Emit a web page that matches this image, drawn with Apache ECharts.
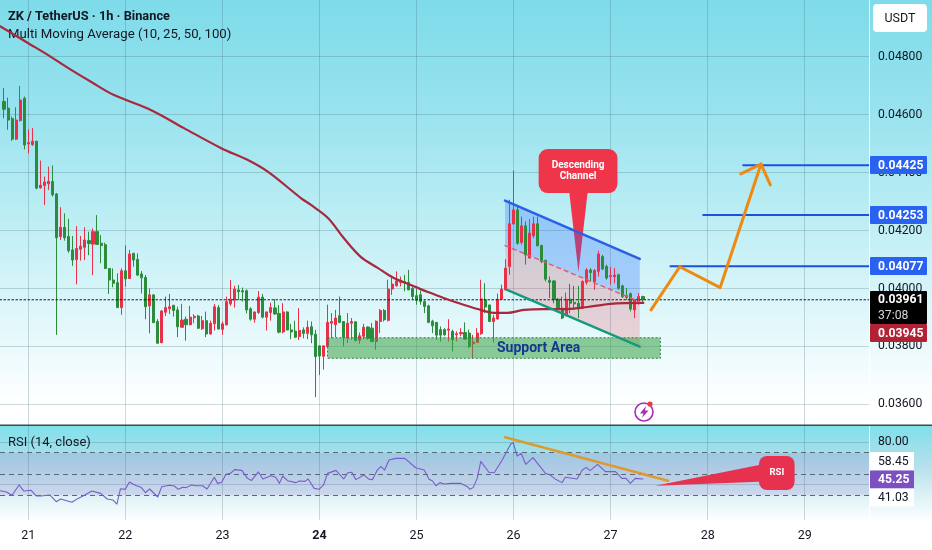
<!DOCTYPE html>
<html><head><meta charset="utf-8">
<style>html,body{margin:0;padding:0;background:#fff}#c{width:932px;height:550px}</style>
<script src="https://cdn.jsdelivr.net/npm/echarts@6/dist/echarts.min.js"></script>
</head><body><div id="c"></div>
<script>
// prices in 1e-5 USDT, one candle per hour, k = 0 is first candle
const opens=[4645,4622,4586,4515,4579,4656,4499,4496,4508,4347,
4355,4361,4369,4326,4179,4211,4179,4133,4100,4135,
4142,4165,4153,4196,4156,4151,4069,4029,4020,3934,
4061,4034,4121,4100,4050,4038,3940,3978,3886,3813,
3918,3930,3942,3926,3866,3894,3875,3899,3905,3861,
3889,3843,3878,3934,3859,3874,3947,3960,3995,3992,
3992,3930,3894,3917,3970,3901,3917,3933,3914,3850,
3919,3857,3853,3834,3857,3845,3868,3842,3802,3766,
3800,3880,3875,3906,3886,3829,3880,3885,3821,3835,
3867,3863,3817,3886,3924,3890,3998,4009,4021,4024,
4021,4000,3975,3978,3955,3940,3887,3883,3858,3858,
3856,3852,3840,3844,3848,3846,3809,3814,3844,3961,
3943,3886,3895,3963,3995,4076,4223,4271,4159,4216,
4105,4182,4223,4148,4097,4028,4026,3963,3932,3906,
3963,3952,3949,3932,4021,4064,4024,4059,4110,4076,
4041,4041,4047,4009,3975,3982,3926,3949,3972];
const closes=[4618,4581,4515,4581,4650,4495,4503,4508,4346,4356,
4367,4369,4323,4175,4211,4175,4130,4098,4138,4146,
4167,4155,4196,4152,4148,4069,4029,4018,3934,4061,
4033,4119,4098,4046,4037,3937,3978,3882,3811,3922,
3934,3937,3924,3868,3891,3875,3901,3904,3863,3889,
3843,3880,3937,3860,3878,3955,3963,3998,3989,3988,
3926,3894,3919,3970,3901,3919,3934,3912,3849,3919,
3857,3850,3832,3855,3845,3866,3840,3765,3767,3802,
3883,3886,3898,3883,3832,3880,3886,3821,3837,3866,
3828,3817,3887,3924,3892,3998,4015,4026,4026,4021,
3995,3972,3959,3955,3938,3883,3871,3839,3839,3840,
3860,3823,3844,3848,3825,3800,3815,3846,3964,3936,
3886,3898,3963,3998,4070,4223,4271,4156,4216,4116,
4191,4223,4147,4093,4032,4021,3961,3932,3898,3963,
3949,3947,3929,4024,4064,4055,4062,4119,4067,4036,
4044,4046,4001,3972,3969,3929,3961,3972,3961];
const lows=[4587,4547,4509,4512,4576,4480,4466,4492,4342,4344,
4288,4340,4317,3840,4167,4165,4123,4078,4014,4096,
4098,4115,4046,4150,4087,4067,3981,4004,3934,3909,
4006,4033,4075,4044,3983,3894,3845,3882,3811,3811,
3905,3912,3903,3832,3866,3820,3873,3880,3860,3857,
3832,3841,3855,3859,3840,3874,3940,3934,3960,3955,
3914,3889,3882,3912,3897,3855,3889,3909,3845,3845,
3855,3825,3829,3822,3828,3825,3811,3625,3702,3720,
3798,3829,3832,3880,3800,3812,3823,3817,3809,3825,
3823,3814,3789,3846,3886,3886,3978,4007,4007,3990,
3995,3961,3944,3944,3915,3880,3846,3823,3817,3837,
3817,3783,3817,3835,3823,3794,3760,3812,3840,3915,
3884,3814,3892,3961,3993,4047,4219,4151,4151,4082,
4102,4174,4145,4087,4024,3967,3949,3926,3894,3904,
3915,3926,3898,3929,4013,4024,3995,4041,4064,4030,
4013,4018,3995,3967,3961,3921,3898,3944,3947];
const highs=[4691,4658,4593,4625,4699,4662,4549,4553,4508,4441,
4386,4420,4424,4329,4280,4259,4240,4181,4215,4181,
4211,4196,4207,4253,4184,4158,4069,4069,4052,4069,
4148,4133,4123,4121,4060,4046,4000,3978,3894,3926,
3972,3981,3943,3937,3947,3903,3940,3911,3909,3905,
3920,3889,3947,3943,3886,3972,4029,4009,4012,4003,
3997,3935,3920,3991,3981,3920,3951,3963,3943,3949,
3921,3878,3889,3932,3866,3889,3886,3857,3802,3802,
3944,3915,3926,3972,3886,3915,3898,3886,3848,3878,
3869,3881,3890,3929,3929,4030,4044,4059,4041,4047,
4064,4009,3998,3993,3959,3944,3892,3883,3869,3863,
3894,3858,3852,3863,3883,3858,3840,3863,4030,4018,
3944,3909,3982,4013,4101,4306,4407,4283,4248,4231,
4239,4248,4248,4151,4099,4041,4028,3967,3972,3986,
4016,4009,4009,4028,4070,4070,4067,4130,4116,4082,
4074,4070,4051,4013,4001,3986,3963,3984,3975];
const maPoints=[[-1,4905],[6,4846],[10.9,4805],[15.9,4760],[21.6,4712],[27.2,4667],[36.4,4615],[44.5,4553],[53.7,4484],[60.3,4443],[65.3,4402],[73.4,4312],[75.9,4288],[80.1,4243],[84,4174],[88.2,4109],[92.4,4071],[96.4,4036],[100.6,4012],[104.8,3988],[108.7,3967],[112.9,3947],[117.1,3929],[121.1,3916],[124.5,3916],[128.5,3926],[133.4,3929],[139.3,3929],[144.3,3936],[150,3947],[158.1,3950]];
const rsiPoints=[[-1,34.3],[0.6,33.1],[2,30],[3.7,39.7],[4.9,34],[6.7,34.7],[8,29.3],[9.2,29.3],[11.3,30.3],[12.9,24],[14,26.5],[16.8,23.4],[18.3,27.1],[19.9,30],[21.7,34],[23.9,31.8],[25.5,26.5],[26.9,25.6],[27.9,21.8],[28.8,36.2],[30,35.6],[31,42.5],[32.7,39],[33.9,37.5],[35,32.5],[36,35.9],[38,28.4],[39,38.1],[40.9,39.4],[42.1,38.7],[43.1,35.6],[44.2,37.5],[45,37.2],[46.4,39.7],[47.5,39],[47.9,37.2],[49.1,39],[50.2,35.9],[52,46.9],[52.8,41.2],[53.8,42.2],[54.9,49.7],[56,50.6],[57,54.1],[58.8,53.4],[60.2,45.9],[61.2,44],[62.9,51.9],[64,45.3],[66,48.4],[67.2,46.9],[68.1,41.2],[68.9,48.1],[70.1,43.7],[72.2,41.9],[73,43.4],[74.4,43.1],[75.2,45.3],[76.7,36.5],[77.9,35.6],[79,39.7],[80,50.6],[82.1,53.4],[84,45.3],[85,51.2],[86,51.6],[87,44.7],[89,49],[90.3,45],[91.1,44.7],[92.3,53.7],[93.2,57.2],[94.1,53.7],[95.2,63.1],[96.9,64.7],[99.1,64.7],[101.8,55.9],[103.9,53.7],[105.1,45],[105.9,43.7],[106.8,39],[107.8,41.9],[108.8,40.6],[110.4,41.2],[112.9,41.2],[114.6,38.1],[115.2,35.6],[116,37.2],[117,45.9],[117.9,61.9],[119.9,51.6],[121.2,51.2],[123.2,63.1],[125.3,78.2],[125.9,79.4],[126.9,66.9],[127.9,69.4],[129,59.1],[130.8,65.3],[133.9,50.6],[135.1,49],[136.4,45],[138,41.9],[138.8,46.9],[141.7,45.3],[143,53.7],[144,56.2],[144.9,53.1],[146.8,59.1],[148.7,52.2],[151.2,52.2],[152.8,45.9],[153.8,45.9],[154.9,41.2],[156.1,45.9],[158,45.25]];
const dayTicks=[6,30,54,78,102,126,150,174,198];
const dayLabels=['21','22','23','24','25','26','27','28','29'];
const priceTicks=[0.036,0.038,0.04,0.042,0.044,0.046,0.048];
const channelTop=[[123.9,4303],[157.2,4102]];
const channelMid=[[123.9,4148],[157.2,3954]];
const channelBottom=[[124.4,3995],[157.2,3799]];
const orangePath=[[160,3926],[167.1,4075],[177.1,4003],[187.2,4429]];
const orangeHeadL=[[182.2,4395],[187.2,4429],[189.5,4357]];
const rsiTrend=[[123.9,84.5],[164.2,43.7]];
const targets=[[182.8,4425],[172.9,4253],[164.8,4077]];
const supportBox=[[80,3830],[162.3,3759]];
const supportTextK=132.2;
const calloutBox=[[132.2,4481],[151.7,4329]];
const calloutTail=[[139.8,4329],[144.3,4329],[142.05,4057]];
const rsiBox=[[186.7,66.9],[195.5,35]];
const rsiTail=[[186.7,58.5],[186.7,42.8],[161.1,39]];
const P=a=>a.map(p=>[p[0],p[1]/1e5]);
const XMAX=213.9,RED='#e9304a',GREEN='#2b8c3c',FONT='Roboto, "Noto Sans", sans-serif',GRID='rgba(55,95,105,0.24)';
const candles=opens.map((o,k)=>[k,o/1e5,closes[k]/1e5,lows[k]/1e5,highs[k]/1e5]);

function polygon(name,points,fill,z,gi){
  return {type:'custom',name,coordinateSystem:'cartesian2d',xAxisIndex:gi,yAxisIndex:gi,silent:true,z,clip:false,
    data:points,encode:{x:0,y:1},
    renderItem:(p,api)=>p.dataIndex?null:{type:'polygon',shape:{points:points.map(q=>api.coord(q))},style:{fill}}};
}
function box(name,corners,style,r,text,textStyle,z,gi,textK){
  return {type:'custom',name,coordinateSystem:'cartesian2d',xAxisIndex:gi,yAxisIndex:gi,silent:true,z,clip:false,
    data:corners,encode:{x:0,y:1},
    renderItem:(p,api)=>{
      if(p.dataIndex)return null;
      const a=api.coord(corners[0]),b=api.coord(corners[1]);
      const tx=textK==null?(a[0]+b[0])/2:api.coord([textK,corners[0][1]])[0];
      return {type:'group',children:[
        {type:'rect',shape:{x:a[0],y:a[1],width:b[0]-a[0],height:b[1]-a[1],r},style},
        {type:'text',style:Object.assign({text,x:tx,y:(a[1]+b[1])/2,align:'center',verticalAlign:'middle',fontFamily:FONT},textStyle)}
      ]};
    }};
}
function line(name,data,color,width,type,z,gi){
  return {type:'line',name,data,xAxisIndex:gi,yAxisIndex:gi,symbol:'none',silent:true,z,clip:false,animation:false,
    lineStyle:{color,width,type:type||'solid',cap:'round',join:'round'}};
}
function tag(text,x,y,w,h,fill,color,bold){
  return {type:'group',z:50,children:[
    {type:'rect',z:50,shape:{x,y,width:w,height:h,r:1},style:{fill}},
    {type:'text',z:51,style:{text,x:w>50?878:878,y:y+h/2+0.5,align:'left',verticalAlign:'middle',fill:color,fontFamily:FONT,fontSize:12.2,fontWeight:bold?'bold':'normal'}}
  ]};
}
const bgTop=new echarts.graphic.LinearGradient(0,0,0,1,[{offset:0,color:'#7edbe9'},{offset:.25,color:'#97e2ee'},{offset:.5,color:'#bbedf4'},{offset:.72,color:'#dcf6fa'},{offset:.95,color:'#ffffff'},{offset:1,color:'#ffffff'}]);
const bgBot=new echarts.graphic.LinearGradient(0,0,0,1,[{offset:0,color:'#7fe0ea'},{offset:.4,color:'#b4dfea'},{offset:.75,color:'#e0f3f7'},{offset:1,color:'#ffffff'}]);

const chart=echarts.init(document.getElementById('c'),null,{renderer:'canvas'});
const xCommon={type:'value',min:-1,max:XMAX,axisLine:{show:false},
  axisTick:{show:false,customValues:dayTicks},splitLine:{show:true,lineStyle:{color:GRID,width:1}}};
chart.setOption({
  animation:false,
  backgroundColor:'transparent',
  title:[
    {text:'ZK / TetherUS · 1h · Binance',left:8,top:10,textStyle:{fontFamily:FONT,fontSize:12.8,fontWeight:'bold',color:'#131722'},padding:0},
    {text:'Multi Moving Average (10, 25, 50, 100)',left:8,top:28,textStyle:{fontFamily:FONT,fontSize:13.2,fontWeight:'normal',color:'#131722'},padding:0},
    {text:'RSI (14, close)',left:8,top:436,textStyle:{fontFamily:FONT,fontSize:13,fontWeight:'normal',color:'#131722'},padding:0}
  ],
  grid:[{left:-1.35,top:0,width:870.35,height:425},{left:-1.35,top:426,width:870.35,height:94}],
  xAxis:[
    Object.assign({},xCommon,{gridIndex:0,axisLabel:{show:false}}),
    Object.assign({},xCommon,{gridIndex:1,axisLabel:{show:true,customValues:dayTicks,margin:9,color:'#131722',fontFamily:FONT,fontSize:12.5,
      formatter:v=>{const s=dayLabels[dayTicks.indexOf(v)];return s==='24'?'{b|'+s+'}':s},rich:{b:{fontWeight:'bold',fontFamily:FONT,fontSize:12.5,color:'#131722'}}}})
  ],
  yAxis:[
    {type:'value',gridIndex:0,position:'right',min:0.03529,max:0.04995,axisLine:{show:false},
      axisTick:{show:false,customValues:priceTicks},splitLine:{show:true,lineStyle:{color:GRID,width:1}},
      axisLabel:{show:true,inside:false,margin:9,customValues:priceTicks,color:'#131722',fontFamily:FONT,fontSize:12.2,formatter:v=>v.toFixed(5)}},
    {type:'value',gridIndex:1,position:'right',min:6.8,max:95.07,axisLine:{show:false},
      axisTick:{show:false,customValues:[40,80]},splitLine:{show:true,lineStyle:{color:GRID,width:1}},
      axisLabel:{show:true,margin:9,customValues:[80],color:'#131722',fontFamily:FONT,fontSize:12.2,formatter:v=>v.toFixed(2)}}
  ],
  graphic:[
    {type:'rect',z:-10,silent:true,shape:{x:0,y:0,width:932,height:425},style:{fill:bgTop}},
    {type:'rect',z:-10,silent:true,shape:{x:0,y:426,width:932,height:96},style:{fill:bgBot}},
    {type:'rect',z:45,silent:true,shape:{x:0,y:424.5,width:932,height:1.6},style:{fill:'#3f4a4e'}},
    {type:'rect',z:45,silent:true,shape:{x:869,y:0,width:1,height:424},style:{fill:'rgba(255,255,255,0.85)'}},
    {type:'rect',z:45,silent:true,shape:{x:869,y:426,width:1,height:96},style:{fill:'rgba(255,255,255,0.85)'}},
    {type:'rect',z:50,shape:{x:873,y:4,width:54,height:28,r:4},style:{fill:'#ffffff'}},
    {type:'text',z:51,style:{text:'USDT',x:900,y:18.5,align:'center',verticalAlign:'middle',fill:'#131722',fontFamily:FONT,fontSize:12.5}},
    tag('0.04425',870,156,57,18,'#2962f0','#ffffff',true),
    tag('0.04253',870,206,57,18,'#2962f0','#ffffff',true),
    tag('0.04077',870,257,57,18,'#2962f0','#ffffff',true),
    tag('0.03961',870,291,57,17,'#000000','#ffffff',true),
    tag('37:08',870,307,57,17,'#000000','#d6d6d6',false),
    tag('0.03945',870,324,57,18,'#b22234','#ffffff',true),
    tag('58.45',870,452,44,18.5,'#ffffff','#131722',false),
    tag('45.25',870,470.5,44,18,'#7e4fc0','#ffffff',true),
    tag('41.03',870,488.5,44,18,'#ffffff','#131722',false),
    {type:'circle',z:40,silent:true,shape:{cx:644,cy:412,r:9},style:{fill:'rgba(255,255,255,0.3)',stroke:'#a62fb8',lineWidth:1.6}},
    {type:'polygon',z:41,silent:true,shape:{points:[[646,406],[640,413.5],[643.5,413.5],[642,418],[648.5,410.5],[645,410.5]]},style:{fill:'#a62fb8'}},
    {type:'circle',z:42,silent:true,shape:{cx:650,cy:404,r:2.6},style:{fill:'#f23645'}}
  ],
  series:[
    polygon('callout tail',P(calloutTail),'#ef3549',2,0),
    box('callout',P(calloutBox),{fill:'#ef3549'},9,'Descending\nChannel',{fill:'#ffffff',fontSize:10,fontWeight:'bold',lineHeight:11},2,0),
    polygon('channel upper',P([channelTop[0],channelTop[1],channelMid[1],channelMid[0]]),'rgba(41,98,255,0.27)',3,0),
    polygon('channel lower',P([channelMid[0],channelMid[1],channelBottom[1],channelBottom[0]]),'rgba(242,54,69,0.2)',3,0),
    box('support',P(supportBox),{fill:'rgba(56,160,70,0.55)',stroke:'#2f7d3c',lineWidth:1,lineDash:[2,2]},0,'Support Area',{fill:'#12398f',fontSize:14,fontWeight:'bold'},6,0,supportTextK),
    {type:'candlestick',name:'ZK',xAxisIndex:0,yAxisIndex:0,z:4,barWidth:2.6,silent:true,data:candles,encode:{x:0,y:[1,2,3,4]},
      itemStyle:{color:RED,color0:GREEN,borderColor:RED,borderColor0:GREEN,borderWidth:1}},
    Object.assign(line('MA100',P(maPoints),'#a8283c',2.2,'solid',8,0),{smooth:0.35}),
    line('channel top',P(channelTop),'#2c5fe6',2.6,'solid',9,0),
    line('channel mid',P(channelMid),'#e8566e',1.4,[4,4],9,0),
    line('channel bottom',P(channelBottom),'#169a7a',2.4,'solid',9,0),
    ...targets.map((t,i)=>line('target'+i,P([t,[XMAX,t[1]]]),'#1f50e0',2,'solid',9,0)),
    line('projection',P(orangePath),'#ee8a12',3,'solid',10,0),
    line('projection head',P(orangeHeadL),'#ee8a12',3,'solid',10,0),
    line('last',P([[-1,3961],[XMAX,3961]]),'#131722',1.2,[1.5,2.5],7,0),
    Object.assign(line('RSI',rsiPoints,'#7a5cc8',1.1,'solid',6,1),{
      markArea:{silent:true,data:[[{yAxis:70,itemStyle:{color:'rgba(126,87,194,0.16)'}},{yAxis:30}]]},
      markLine:{silent:true,symbol:'none',label:{show:false},lineStyle:{color:'#5b6a72',type:[5,4],width:1},data:[{yAxis:70},{yAxis:50},{yAxis:30}]}
    }),
    line('RSI trend',rsiTrend,'#dd9a2e',2.6,'solid',7,1),
    polygon('rsi tail',rsiTail,'#e6314f',8,1),
    box('rsi callout',rsiBox,{fill:'#e6314f'},8,'RSI',{fill:'#ffffff',fontSize:9.5,fontWeight:'bold'},8,1)
  ]
});
</script></body></html>
